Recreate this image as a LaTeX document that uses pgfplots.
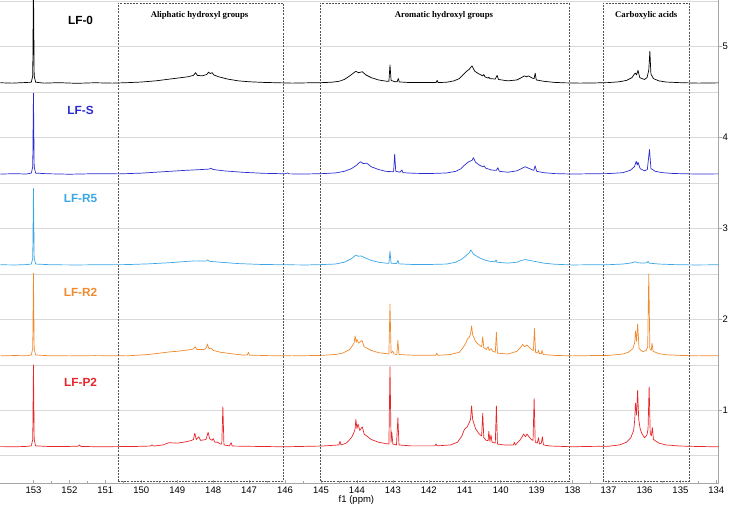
\documentclass[border=0pt]{standalone}
\usepackage{pgfplots}
\pgfplotsset{compat=1.18}
\usepackage{pgfplotstable}
\usepackage{fontspec}
\setmainfont{Liberation Sans}
\newfontfamily\serifb{Liberation Serif}

\definecolor{cZero}{HTML}{000000}
\definecolor{cS}{HTML}{2A2AD2}
\definecolor{cRfive}{HTML}{3AA6E6}
\definecolor{cRtwo}{HTML}{F08A2E}
\definecolor{cPtwo}{HTML}{E8262A}
\definecolor{boxgray}{HTML}{555555}

% LF-0 (heights above baseline 4.6)
\pgfplotstableread{
ppm h
153.92 0.004
153.6 0.0
153.3 0.005
153.06 0.01
153.02 0.08
153.0 1.1
152.98 0.08
152.94 0.01
152.7 0.0
152.3 0.005
151.8 -0.002
151.3 0.004
150.8 0.0
150.4 0.005
150.0 0.012
149.6 0.025
149.2 0.045
148.9 0.06
148.7 0.07
148.55 0.085
148.49 0.115
148.44 0.085
148.3 0.08
148.18 0.095
148.13 0.12
148.08 0.105
148.03 0.115
147.98 0.09
147.85 0.07
147.6 0.045
147.3 0.025
147.0 0.015
146.6 0.008
146.2 0.004
145.8 0.0
145.4 0.003
145.0 0.005
144.7 0.01
144.5 0.02
144.35 0.04
144.2 0.08
144.1 0.11
144.03 0.13
143.96 0.115
143.85 0.125
143.75 0.09
143.6 0.06
143.4 0.035
143.2 0.022
143.11 0.02
143.08 0.2
143.05 0.03
142.95 0.016
142.88 0.015
142.85 0.05
142.82 0.013
142.6 0.008
142.2 0.006
141.8 0.006
141.77 0.03
141.74 0.006
141.5 0.01
141.3 0.025
141.15 0.05
141.05 0.09
140.95 0.13
140.88 0.15
140.8 0.19
140.72 0.13
140.6 0.1
140.5 0.08
140.47 0.095
140.44 0.07
140.35 0.055
140.33 0.065
140.3 0.05
140.15 0.045
140.1 0.085
140.06 0.04
139.8 0.025
139.55 0.035
139.45 0.055
139.34 0.08
139.28 0.07
139.23 0.08
139.12 0.055
139.07 0.05
139.04 0.11
139.01 0.035
138.8 0.02
138.5 0.008
138.2 0.003
137.8 0.0
137.4 0.002
137.0 0.006
136.7 0.015
136.5 0.03
136.35 0.06
136.28 0.1
136.25 0.11
136.22 0.09
136.18 0.14
136.13 0.06
136.0 0.04
135.93 0.06
135.88 0.14
135.85 0.35
135.82 0.1
135.75 0.05
135.6 0.025
135.4 0.012
135.0 0.005
134.5 0.0
133.94 0.003
}\lfzero

% LF-S (baseline 3.6)
\pgfplotstableread{
ppm h
153.92 0.0
153.5 0.004
153.2 0.0
153.06 0.01
153.02 0.08
153.0 0.89
152.98 0.08
152.94 0.01
152.6 0.003
152.0 -0.002
151.4 0.003
150.6 0.002
150.0 0.01
149.4 0.025
148.8 0.04
148.3 0.05
148.1 0.055
148.07 0.065
148.0 0.05
147.7 0.035
147.2 0.02
146.6 0.008
146.0 0.003
145.93 0.012
145.88 0.002
145.5 0.0
145.0 0.004
144.6 0.012
144.35 0.03
144.15 0.06
144.0 0.1
143.92 0.13
143.89 0.135
143.83 0.115
143.73 0.12
143.6 0.08
143.4 0.05
143.2 0.03
142.98 0.025
142.95 0.22
142.92 0.03
142.8 0.02
142.75 0.045
142.72 0.015
142.4 0.008
142.0 0.005
141.5 0.012
141.25 0.03
141.1 0.06
141.0 0.1
140.89 0.135
140.8 0.15
140.76 0.18
140.7 0.13
140.6 0.1
140.5 0.08
140.46 0.09
140.42 0.065
140.3 0.05
140.27 0.045
140.12 0.04
140.08 0.07
140.04 0.03
139.8 0.02
139.55 0.035
139.42 0.06
139.32 0.08
139.2 0.06
139.08 0.04
139.04 0.09
139.0 0.03
138.8 0.015
138.5 0.005
138.0 0.0
137.5 0.003
137.0 0.005
136.6 0.015
136.4 0.04
136.28 0.08
136.23 0.14
136.2 0.1
136.18 0.13
136.12 0.06
136.0 0.035
135.92 0.05
135.86 0.27
135.82 0.06
135.7 0.03
135.5 0.015
135.2 0.006
134.5 0.0
133.94 0.002
}\lfs

% LF-R5 (baseline 2.6)
\pgfplotstableread{
ppm h
153.92 0.002
153.5 0.0
153.2 0.004
153.06 0.01
153.02 0.07
153.0 0.84
152.98 0.07
152.94 0.01
152.5 0.002
151.8 0.0
151.0 0.003
150.4 0.004
149.8 0.012
149.2 0.025
148.7 0.04
148.5 0.045
148.2 0.042
148.16 0.055
148.1 0.04
147.8 0.03
147.3 0.015
146.7 0.006
146.0 0.002
145.4 0.0
145.0 0.004
144.6 0.01
144.35 0.03
144.15 0.07
144.03 0.11
143.96 0.095
143.89 0.1
143.75 0.075
143.6 0.05
143.4 0.03
143.2 0.02
143.11 0.018
143.08 0.15
143.05 0.02
142.9 0.014
142.86 0.05
142.83 0.012
142.5 0.006
142.0 0.005
141.5 0.01
141.25 0.03
141.1 0.06
141.0 0.09
140.95 0.11
140.88 0.13
140.83 0.165
140.76 0.12
140.6 0.08
140.45 0.055
140.3 0.04
140.16 0.035
140.13 0.055
140.1 0.03
139.8 0.02
139.55 0.03
139.42 0.05
139.31 0.06
139.2 0.05
139.0 0.035
138.8 0.02
138.5 0.008
138.0 0.0
137.5 0.002
137.0 0.003
136.6 0.01
136.4 0.02
136.3 0.03
136.26 0.035
136.2 0.025
136.05 0.02
135.93 0.025
135.9 0.04
135.87 0.02
135.6 0.01
135.2 0.004
134.6 0.0
133.94 0.002
}\lfrfive

% LF-R2 (baseline 1.6)
\pgfplotstableread{
ppm h
153.92 0.0
153.5 0.004
153.2 0.0
153.06 0.01
153.02 0.08
153.0 0.91
152.98 0.08
152.94 0.01
152.6 0.002
152.0 0.0
151.3 0.003
150.4 0.0
149.8 0.015
149.18 0.045
149.0 0.05
148.7 0.065
148.55 0.075
148.5 0.1
148.45 0.07
148.25 0.07
148.19 0.09
148.16 0.13
148.12 0.08
148.05 0.085
148.0 0.06
147.8 0.04
147.42 0.02
147.2 0.01
147.05 0.01
147.02 0.04
146.99 0.008
146.5 0.003
145.8 0.0
145.0 0.005
144.6 0.015
144.4 0.03
144.2 0.07
144.08 0.14
144.05 0.22
144.02 0.15
144.0 0.18
143.95 0.14
143.86 0.17
143.8 0.1
143.6 0.06
143.4 0.035
143.2 0.025
143.11 0.02
143.08 0.57
143.05 0.03
143.0 0.05
142.97 0.02
142.89 0.015
142.86 0.17
142.83 0.015
142.5 0.008
142.0 0.006
141.81 0.006
141.78 0.03
141.75 0.006
141.4 0.015
141.15 0.04
141.05 0.09
140.97 0.14
140.92 0.19
140.88 0.2
140.84 0.24
140.81 0.33
140.78 0.23
140.7 0.16
140.6 0.12
140.53 0.1
140.5 0.21
140.47 0.09
140.4 0.07
140.35 0.1
140.32 0.06
140.27 0.08
140.22 0.05
140.15 0.04
140.12 0.26
140.09 0.03
139.8 0.02
139.55 0.05
139.45 0.09
139.39 0.125
139.33 0.1
139.27 0.12
139.15 0.07
139.09 0.06
139.06 0.3
139.03 0.04
138.97 0.03
138.95 0.065
138.92 0.025
138.87 0.025
138.85 0.06
138.82 0.015
138.5 0.005
138.0 0.0
137.5 0.003
137.0 0.005
136.6 0.02
136.45 0.04
136.32 0.08
136.27 0.15
136.25 0.275
136.22 0.16
136.19 0.35
136.15 0.08
136.05 0.045
135.95 0.06
135.91 0.1
135.88 0.9
135.85 0.08
135.81 0.06
135.79 0.14
135.76 0.05
135.6 0.025
135.4 0.012
135.0 0.005
134.5 0.0
133.94 0.002
}\lfrtwo

% LF-P2 (baseline 0.6)
\pgfplotstableread{
ppm h
153.92 0.002
153.5 0.0
153.2 0.004
153.06 0.01
153.02 0.08
153.0 0.9
152.98 0.08
152.94 0.01
152.5 0.002
152.0 0.004
151.76 0.006
151.72 0.02
151.68 0.004
151.2 0.0
150.6 0.002
150.2 0.003
149.75 0.008
149.7 0.02
149.65 0.008
149.4 0.02
149.23 0.045
149.0 0.04
148.75 0.055
148.6 0.07
148.55 0.08
148.51 0.15
148.47 0.08
148.4 0.11
148.35 0.07
148.2 0.08
148.14 0.16
148.1 0.09
148.03 0.07
148.0 0.09
147.95 0.05
147.88 0.05
147.8 0.03
147.76 0.03
147.73 0.44
147.7 0.02
147.55 0.01
147.5 0.045
147.47 0.008
147.0 0.005
146.0 0.0
145.5 0.004
145.0 0.008
144.7 0.015
144.5 0.02
144.47 0.06
144.44 0.02
144.3 0.04
144.15 0.1
144.08 0.16
144.05 0.2
144.03 0.3
144.0 0.2
143.97 0.25
143.92 0.18
143.85 0.22
143.8 0.14
143.6 0.08
143.4 0.05
143.2 0.035
143.11 0.03
143.08 0.88
143.05 0.05
143.03 0.16
143.0 0.03
142.9 0.02
142.86 0.32
142.83 0.02
142.5 0.01
142.1 0.01
141.83 0.01
141.8 0.03
141.77 0.01
141.4 0.02
141.2 0.05
141.08 0.12
141.01 0.19
140.93 0.22
140.87 0.27
140.84 0.3
140.81 0.45
140.78 0.3
140.7 0.2
140.6 0.14
140.53 0.12
140.5 0.37
140.47 0.1
140.4 0.07
140.35 0.07
140.33 0.17
140.3 0.06
140.27 0.13
140.24 0.05
140.15 0.04
140.12 0.45
140.09 0.03
139.9 0.02
139.65 0.02
139.62 0.05
139.59 0.02
139.45 0.08
139.36 0.14
139.31 0.11
139.27 0.14
139.15 0.08
139.1 0.07
139.07 0.53
139.04 0.05
138.98 0.04
138.95 0.1
138.92 0.03
138.87 0.04
138.84 0.11
138.81 0.02
138.6 0.008
138.0 0.0
137.5 0.004
137.0 0.006
136.7 0.02
136.5 0.05
136.38 0.1
136.3 0.18
136.27 0.3
136.25 0.48
136.22 0.35
136.19 0.62
136.16 0.3
136.12 0.2
136.08 0.15
136.0 0.1
135.93 0.13
135.9 0.2
135.87 0.66
135.84 0.15
135.81 0.12
135.78 0.21
135.75 0.08
135.6 0.04
135.4 0.02
135.0 0.008
134.5 0.003
133.94 0.0
}\lfptwo

\begin{document}
\begin{tikzpicture}
\begin{axis}[
    width=717pt, height=482pt, scale only axis,
    x dir=reverse,
    xmin=133.94, xmax=153.92,
    ymin=0.2, ymax=5.51,
    axis x line*=bottom, axis y line*=right,
    axis line style={gray!70, line width=0.8pt},
    xtick={134,...,153},
    minor x tick num=1,
    ytick={1,...,5},
    minor ytick={0.5,1.5,...,5},
    ymajorgrids, yminorgrids,
    major grid style={gray!30, line width=0.8pt},
    minor grid style={gray!30, line width=0.8pt},
    tick style={gray!70, line width=0.6pt},
    xtick align=inside,
    ytick align=outside,
    major tick length=3pt,
    minor tick length=2pt,
    minor y tick style={draw=none},
    ticklabel style={font=\fontsize{9.5}{10}\selectfont, inner sep=1pt},
    /pgf/number format/assume math mode=true,
    xticklabel style={yshift=-2.5pt},
    xlabel={f1 (ppm)},
    xlabel style={font=\fontsize{9.5}{10}\selectfont, inner sep=0pt, yshift=-1pt, xshift=-3pt},
    clip=true,
    every axis plot/.append style={line width=0.7pt, line join=round},
]
\addplot[cZero] table[x=ppm, y expr=\thisrow{h}+4.6] {\lfzero};
\addplot[cS] table[x=ppm, y expr=\thisrow{h}+3.6] {\lfs};
\addplot[cRfive] table[x=ppm, y expr=\thisrow{h}+2.6] {\lfrfive};
\addplot[cRtwo] table[x=ppm, y expr=\thisrow{h}+1.6] {\lfrtwo};
\addplot[cPtwo] table[x=ppm, y expr=\thisrow{h}+0.6] {\lfptwo};

% region boxes
\draw[boxgray, line width=0.6pt, dash pattern=on 2pt off 1.2pt]
  (axis cs:150.65,0.22) rectangle (axis cs:146.05,5.48);
\draw[boxgray, line width=0.6pt, dash pattern=on 2pt off 1.2pt]
  (axis cs:145.03,0.22) rectangle (axis cs:138.1,5.48);
\draw[boxgray, line width=0.6pt, dash pattern=on 2pt off 1.2pt]
  (axis cs:137.15,0.22) rectangle (axis cs:134.75,5.48);

\node[font=\serifb\bfseries\fontsize{8.7}{9}\selectfont] at (axis cs:148.38,5.35) {Aliphatic hydroxyl groups};
\node[font=\serifb\bfseries\fontsize{8.7}{9}\selectfont] at (axis cs:141.58,5.35) {Aromatic hydroxyl groups};
\node[font=\serifb\bfseries\fontsize{8.7}{9}\selectfont] at (axis cs:135.95,5.35) {Carboxylic acids};

\node[font=\bfseries\fontsize{11.8}{12}\selectfont, text=cZero] at (axis cs:151.69,5.29) {LF-0};
\node[font=\bfseries\fontsize{11.8}{12}\selectfont, text=cS] at (axis cs:151.69,4.30) {LF-S};
\node[font=\bfseries\fontsize{11.8}{12}\selectfont, text=cRfive] at (axis cs:151.69,3.33) {LF-R5};
\node[font=\bfseries\fontsize{11.8}{12}\selectfont, text=cRtwo] at (axis cs:151.69,2.30) {LF-R2};
\node[font=\bfseries\fontsize{11.8}{12}\selectfont, text=cPtwo] at (axis cs:151.69,1.31) {LF-P2};
\end{axis}
\end{tikzpicture}
\end{document}
